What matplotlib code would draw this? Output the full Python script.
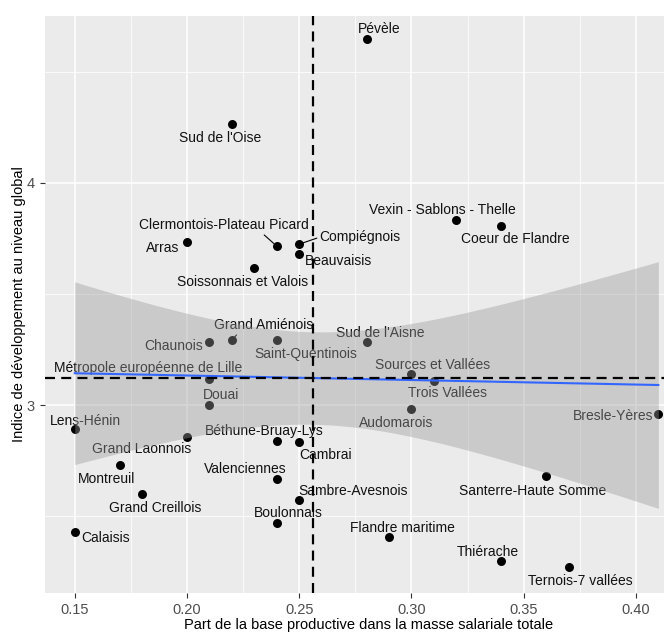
import matplotlib

matplotlib.use("Agg")
import matplotlib.pyplot as plt
import numpy as np

plt.rcParams["font.family"] = ["Liberation Sans", "DejaVu Sans"]

names = [
    "Pévèle", "Sud de l'Oise", "Clermontois-Plateau Picard", "Arras", "Compiégnois",
    "Beauvaisis", "Soissonnais et Valois", "Vexin - Sablons - Thelle", "Coeur de Flandre",
    "Grand Amiénois", "Chaunois", "Saint-Quentinois", "Sud de l'Aisne", "Sources et Vallées",
    "Trois Vallées", "Métropole européenne de Lille", "Douai", "Audomarois", "Bresle-Yères",
    "Lens-Hénin", "Grand Laonnois", "Montreuil", "Grand Creillois", "Calaisis",
    "Béthune-Bruay-Lys", "Cambrai", "Valenciennes", "Sambre-Avesnois", "Boulonnais",
    "Flandre maritime", "Thiérache", "Ternois-7 vallées", "Santerre-Haute Somme",
]
part_productive = [
    0.28, 0.22, 0.24, 0.20, 0.25,
    0.25, 0.23, 0.32, 0.34,
    0.22, 0.21, 0.24, 0.28, 0.30,
    0.31, 0.21, 0.21, 0.30, 0.41,
    0.15, 0.20, 0.17, 0.18, 0.15,
    0.24, 0.25, 0.24, 0.25, 0.24,
    0.29, 0.34, 0.37, 0.36,
]
indice_dev = [
    4.646, 4.264, 3.715, 3.732, 3.724,
    3.682, 3.615, 3.832, 3.805,
    3.292, 3.282, 3.292, 3.282, 3.139,
    3.108, 3.117, 3.000, 2.981, 2.958,
    2.891, 2.857, 2.730, 2.598, 2.430,
    2.838, 2.832, 2.667, 2.573, 2.471,
    2.406, 2.300, 2.270, 2.681,
]

# label placement (pixels, right / down) as ggrepel left them
label_offsets = {
    "Pévèle": (13, -10), "Sud de l'Oise": (-12, 14), "Clermontois-Plateau Picard": (-53, -21),
    "Arras": (-24, 6), "Compiégnois": (61, -7), "Beauvaisis": (39, 7),
    "Soissonnais et Valois": (-12, 14), "Vexin - Sablons - Thelle": (-14, -10),
    "Coeur de Flandre": (14, 13), "Grand Amiénois": (32, -15), "Chaunois": (-36, 4),
    "Saint-Quentinois": (29, 14), "Sud de l'Aisne": (14, -9), "Sources et Vallées": (21, -9),
    "Trois Vallées": (14, 12), "Métropole européenne de Lille": (-61, -11), "Douai": (12, -10),
    "Audomarois": (-15, 14), "Bresle-Yères": (-45, 2), "Lens-Hénin": (11, -8),
    "Grand Laonnois": (-45, 12), "Montreuil": (-13, 14), "Grand Creillois": (13, 14),
    "Calaisis": (31, 6), "Béthune-Bruay-Lys": (-13, -10), "Cambrai": (26, 13),
    "Valenciennes": (-32, -10), "Sambre-Avesnois": (54, -9), "Boulonnais": (12, -10),
    "Flandre maritime": (13, -9), "Thiérache": (-13, -9), "Ternois-7 vallées": (12, 14),
    "Santerre-Haute Somme": (-13, 15),
}
# where the leader segment leaves the label box
with_segment = {"Clermontois-Plateau Picard": (0.72, 0.0), "Compiégnois": (0.0, 0.5),
                "Grand Amiénois": (0.25, 0.0)}

x = np.array(part_productive)
y = np.array(indice_dev)

# linear fit with 95% confidence band (like geom_smooth(method = "lm"))
n = len(x)
slope, intercept = np.polyfit(x, y, 1)
resid = y - (slope * x + intercept)
s = np.sqrt(np.sum(resid ** 2) / (n - 2))
sxx = np.sum((x - x.mean()) ** 2)
t_crit = 2.04  # t(0.975, df = 31)
xs = np.linspace(x.min(), x.max(), 80)
fit = slope * xs + intercept
half = t_crit * s * np.sqrt(1 / n + (xs - x.mean()) ** 2 / sxx)

fig = plt.figure(figsize=(6.64, 6.35), dpi=100)
# panel runs past the right edge, the original image was cropped there
ax = fig.add_axes([45 / 664, 42 / 635, 647 / 664, 577 / 635])
ax.set_facecolor("#EBEBEB")
for sp in ax.spines.values():
    sp.set_visible(False)

ax.set_xlim(0.13675, 0.4225)
ax.set_ylim(2.154, 4.751)
ax.set_xticks([0.15, 0.20, 0.25, 0.30, 0.35, 0.40])
ax.set_xticklabels(["0.15", "0.20", "0.25", "0.30", "0.35", "0.40"])
ax.set_xticks([0.175, 0.225, 0.275, 0.325, 0.375, 0.425], minor=True)
ax.set_yticks([3, 4])
ax.set_yticks([2.5, 3.5, 4.5], minor=True)
ax.grid(which="major", color="white", lw=1.1)
ax.grid(which="minor", color="white", lw=0.55)
ax.set_axisbelow(True)
ax.tick_params(which="major", length=3.5, width=0.8, color="#333333",
               labelsize=10.5, labelcolor="#4D4D4D", pad=4)
ax.tick_params(which="minor", length=0)

ax.scatter(x, y, s=42, color="black", zorder=3, linewidths=0)

for name, xi, yi in zip(names, x, y):
    dx, dy = label_offsets[name]
    kw = {}
    if name in with_segment:
        kw["arrowprops"] = dict(arrowstyle="-", color="black", lw=0.8, shrinkA=0, shrinkB=3,
                                relpos=with_segment[name])
    ax.annotate(name, (xi, yi), xytext=(dx, -dy), textcoords="offset pixels",
                ha="center", va="center", fontsize=10, color="#111111", zorder=4, **kw)

ax.fill_between(xs, fit - half, fit + half, color="#999999", alpha=0.4, lw=0, zorder=5)
ax.plot(xs, fit, color="#3366FF", lw=1.5, zorder=6)

ax.axvline(x.mean(), color="black", lw=1.6, dashes=(4.5, 2.8), zorder=7)
ax.axhline(y.mean(), color="black", lw=1.6, dashes=(4.5, 2.8), zorder=7)

ax.set_xlabel("Part de la base productive dans la masse salariale totale", fontsize=10.5)
ax.set_ylabel("Indice de développement au niveau global", fontsize=10.5)
ax.xaxis.set_label_coords(0.5, -(618 - 593) / 577)
ax.yaxis.set_label_coords(-(45 - 26) / 647, 0.5)

fig.savefig("out.png", dpi=100)
